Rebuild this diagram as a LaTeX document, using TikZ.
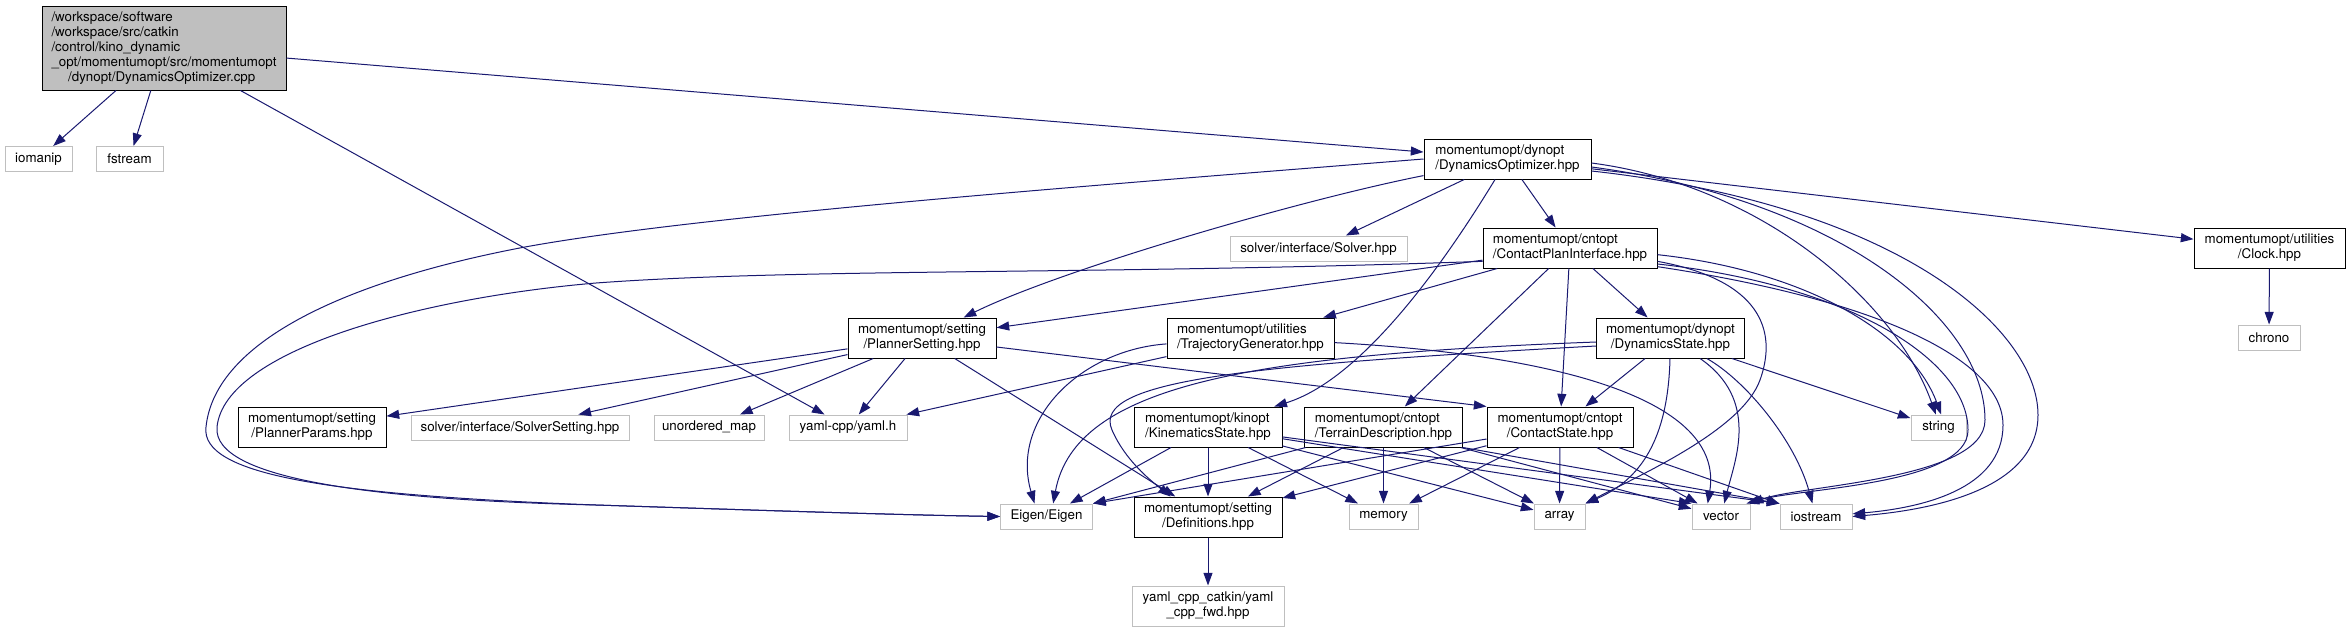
\documentclass[tikz,border=0pt]{standalone}
\usepackage{fontspec}
\setmainfont{TeX Gyre Heros}
\usepackage{tikz}
\usetikzlibrary{arrows.meta}
\definecolor{linkblue}{HTML}{191970}
\definecolor{extgray}{HTML}{BFBFBF}

\begin{document}
\begin{tikzpicture}[
    x=0.75pt, y=-0.75pt,
    every node/.style={font=\fontsize{10}{11.25}\selectfont},
    hdr/.style={rectangle, draw=black, line width=0.75pt, inner xsep=4pt, inner ysep=2pt, minimum height=18.75pt, align=center},
    sys/.style={hdr, draw=extgray},
    dbl/.style={minimum height=30pt},
    wd/.style={minimum width=#1*0.75pt},
    dep/.style={-{Triangle[length=9.5pt, width=6.75pt]}, line width=0.75pt, color=linkblue}
]
\useasboundingbox (0,0) rectangle (2350,632);

% --- source file and first level ---
\node[hdr, fill=extgray, wd=244, minimum height=63pt, align=left] (main) at (164,48) {/workspace/software\\/workspace/src/catkin\\/control/kino\_dynamic\\\_opt/momentumopt/src/momentumopt\\\hspace*{12.5pt}/dynopt/DynamicsOptimizer.cpp};
\node[sys, wd=67] (iomanip) at (38.5,159) {iomanip};
\node[sys, wd=67] (fstream) at (129.5,159) {fstream};
\node[hdr, dbl, wd=167, align=left] (dohpp) at (1507.5,159) {momentumopt/dynopt\\/DynamicsOptimizer.hpp};

% --- second and third level ---
\node[sys, wd=177] (solver) at (1318.5,248.5) {solver/interface/Solver.hpp};
\node[hdr, dbl, wd=174, align=left] (cpi) at (1570,248) {momentumopt/cntopt\\/ContactPlanInterface.hpp};
\node[hdr, dbl, wd=151] (clock) at (2269.5,248) {momentumopt/utilities\\/Clock.hpp};
\node[sys, wd=62] (chrono) at (2269,337.5) {chrono};
\node[hdr, dbl, wd=148] (plannersetting) at (922,338) {momentumopt/setting\\/PlannerSetting.hpp};
\node[hdr, dbl, wd=167, align=left] (trajgen) at (1250.5,338) {momentumopt/utilities\\/TrajectoryGenerator.hpp};
\node[hdr, dbl, wd=148] (dynstate) at (1670.5,338) {momentumopt/dynopt\\/DynamicsState.hpp};

% --- fourth level ---
\node[hdr, dbl, wd=148] (plannerparams) at (312,427) {momentumopt/setting\\/PlannerParams.hpp};
\node[sys, wd=218] (solversetting) at (520,427.5) {solver/interface/SolverSetting.hpp};
\node[sys, wd=110] (unorderedmap) at (709,427.5) {unordered\_map};
\node[sys, wd=118] (yamlh) at (848,427.5) {yaml-cpp/yaml.h};
\node[hdr, dbl, wd=148, align=left] (kinstate) at (1208,427) {momentumopt/kinopt\\/KinematicsState.hpp};
\node[hdr, dbl, wd=158, align=left] (terrain) at (1383.5,427) {momentumopt/cntopt\\/TerrainDescription.hpp};
\node[hdr, dbl, wd=146] (contactstate) at (1560,427) {momentumopt/cntopt\\/ContactState.hpp};
\node[sys, wd=55] (string) at (1938.5,427.5) {string};

% --- bottom levels ---
\node[sys, wd=92] (eigen) at (1046.5,516.5) {Eigen/Eigen};
\node[hdr, dbl, wd=148] (definitions) at (1208,517) {momentumopt/setting\\/Definitions.hpp};
\node[sys, wd=69] (memory) at (1383.5,516.5) {memory};
\node[sys, wd=51] (array) at (1559.5,516.5) {array};
\node[sys, wd=58] (vector) at (1721,516.5) {vector};
\node[sys, wd=72] (iostream) at (1816,516.5) {iostream};
\node[sys, dbl, wd=152] (yamlfwd) at (1208,606) {yaml\_cpp\_catkin/yaml\\\_cpp\_fwd.hpp};

% --- includes of the source file ---
\draw[dep] (main) -- (iomanip);
\draw[dep] (main) -- (fstream);
\draw[dep] (main) -- (dohpp);
\draw[dep] (main) -- (yamlh);

% --- DynamicsOptimizer.hpp ---
\draw[dep] (dohpp) -- (solver);
\draw[dep] (dohpp) -- (cpi);
\draw[dep] (dohpp) -- (clock);
\draw[dep] (dohpp) .. controls (1300,200) and (1060,270) .. (plannersetting);
\draw[dep] (dohpp) .. controls (1440,270) and (1360,380) .. (kinstate);
\draw[dep] (dohpp.west) .. controls (1100,185) and (700,215) .. (525,247) .. controls (350,280) and (215,340) .. (206,427) .. controls (200,475) and (330,495) .. (596,505) .. controls (750,510) and (900,515) .. (eigen.west);
\draw[dep] ([yshift=-3pt]dohpp.east) .. controls (1760,185) and (1895,300) .. ([xshift=-2pt]string.north);
\draw[dep] ([yshift=-6pt]dohpp.east) .. controls (1840,200) and (1985,320) .. (1985,420) .. controls (1985,480) and (1800,485) .. (vector.north east);
\draw[dep] ([yshift=-9pt]dohpp.east) .. controls (1900,205) and (2038,330) .. (2038,415) .. controls (2038,490) and (1930,510) .. (iostream.east);

% --- ContactPlanInterface.hpp ---
\draw[dep] (cpi) -- (plannersetting);
\draw[dep] (cpi) -- (trajgen);
\draw[dep] (cpi) -- (terrain);
\draw[dep] (cpi) -- (contactstate);
\draw[dep] (cpi) -- (dynstate);
\draw[dep] ([yshift=-10pt]cpi.west) .. controls (1100,275) and (800,268) .. (596,283) .. controls (420,298) and (225,350) .. (217,427) .. controls (212,480) and (380,500) .. (596,505) .. controls (750,510) and (900,515) .. (eigen.west);
\draw[dep] ([yshift=-10pt]cpi.east) .. controls (1760,280) and (1778,330) .. (1760,380) .. controls (1742,430) and (1640,475) .. (array.north east);
\draw[dep] ([yshift=-5pt]cpi.east) .. controls (1800,270) and (1910,330) .. ([xshift=2pt]string.north);
\draw[dep] ([yshift=-12pt]cpi.east) .. controls (1850,285) and (1968,360) .. (1968,430) .. controls (1968,485) and (1800,488) .. ([xshift=-3pt]vector.north east);
\draw[dep] ([yshift=-14pt]cpi.east) .. controls (1880,300) and (2003,360) .. (2003,425) .. controls (2003,490) and (1920,508) .. ([yshift=2pt]iostream.east);

% --- Clock.hpp ---
\draw[dep] (clock) -- (chrono);

% --- PlannerSetting.hpp ---
\draw[dep] (plannersetting) -- (plannerparams);
\draw[dep] (plannersetting) -- (solversetting);
\draw[dep] (plannersetting) -- (unorderedmap);
\draw[dep] (plannersetting) -- (yamlh);
\draw[dep] (plannersetting) -- (definitions);
\draw[dep] (plannersetting) -- (contactstate.north west);

% --- TrajectoryGenerator.hpp ---
\draw[dep] (trajgen) -- (yamlh);
\draw[dep] (trajgen) .. controls (1080,350) and (1010,420) .. ([xshift=-9pt]eigen.north);
\draw[dep] (trajgen) .. controls (1560,355) and (1725,400) .. ([xshift=-10pt]vector.north);

% --- DynamicsState.hpp ---
\draw[dep] (dynstate) -- (contactstate);
\draw[dep] (dynstate) -- (string);
\draw[dep] ([yshift=-3pt]dynstate.west) .. controls (1250,355) and (1075,385) .. ([xshift=5pt]eigen.north);
\draw[dep] ([yshift=-6pt]dynstate.west) .. controls (1250,365) and (1090,380) .. (1112,430) .. controls (1125,460) and (1150,480) .. ([xshift=-28pt]definitions.north);
\draw[dep] (dynstate) .. controls (1668,440) and (1640,480) .. (array.north east);
\draw[dep] (dynstate) .. controls (1760,400) and (1735,460) .. (vector);
\draw[dep] (dynstate) .. controls (1745,380) and (1795,440) .. (iostream);

% --- KinematicsState.hpp ---
\draw[dep] (kinstate) -- (eigen);
\draw[dep] (kinstate) -- (definitions);
\draw[dep] (kinstate) -- (memory);
\draw[dep] (kinstate) -- (array);
\draw[dep] (kinstate) -- (vector.north west);
\draw[dep] (kinstate) -- (iostream.north west);

% --- TerrainDescription.hpp ---
\draw[dep] (terrain) -- (eigen.north east);
\draw[dep] (terrain) -- (definitions);
\draw[dep] (terrain) -- (memory);
\draw[dep] (terrain) -- (array);
\draw[dep] (terrain) -- (vector);
\draw[dep] (terrain.south east) -- (iostream.north west);

% --- ContactState.hpp ---
\draw[dep] (contactstate) -- (eigen.north east);
\draw[dep] (contactstate) -- (definitions);
\draw[dep] (contactstate) -- (memory);
\draw[dep] (contactstate) -- (array);
\draw[dep] (contactstate) -- (vector);
\draw[dep] (contactstate) -- (iostream);

% --- Definitions.hpp ---
\draw[dep] (definitions) -- (yamlfwd);
\end{tikzpicture}
\end{document}
